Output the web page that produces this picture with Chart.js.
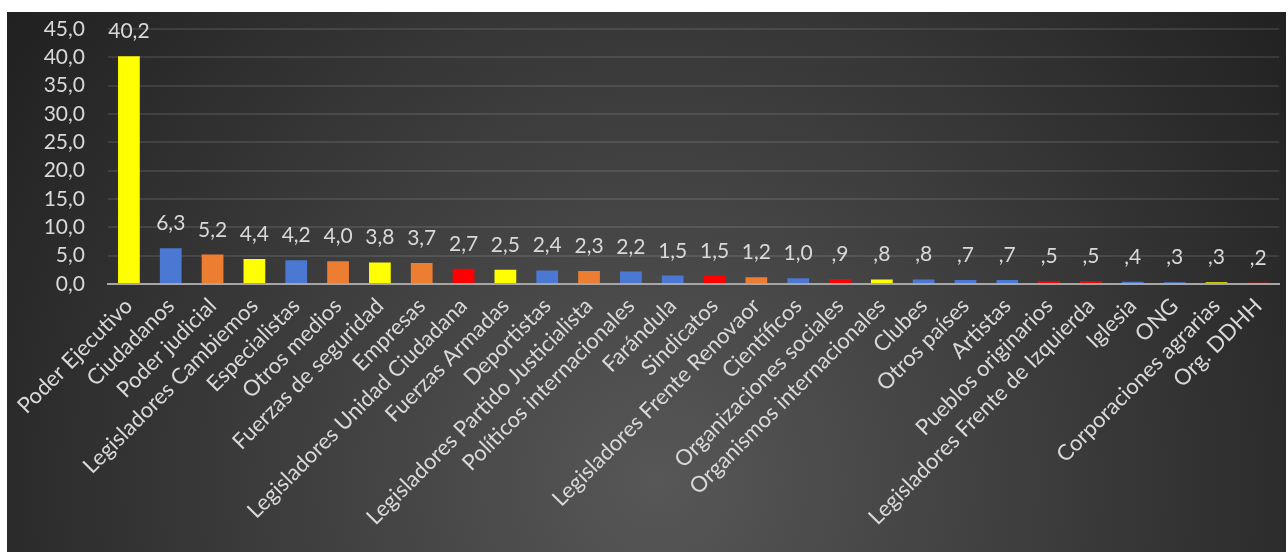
<!DOCTYPE html>
<html>
<head>
    <title>Actores</title>
    <script src="https://cdn.jsdelivr.net/npm/chart.js"></script>
    <style>
        body { margin: 0; background: #ffffff; }
        #wrap { position: absolute; left: 7px; top: 12px; width: 1279px; height: 540px; }
    </style>
</head>
<body>
    <div id="wrap"><canvas id="actorsChart"></canvas></div>

    <script>
        var categories = ['Poder Ejecutivo', 'Ciudadanos', 'Poder judicial', 'Legisladores Cambiemos', 'Especialistas',
            'Otros medios', 'Fuerzas de seguridad', 'Empresas', 'Legisladores Unidad Ciudadana', 'Fuerzas Armadas',
            'Deportistas', 'Legisladores Partido Justicialista', 'Políticos internacionales', 'Farándula', 'Sindicatos',
            'Legisladores Frente Renovaor', 'Científicos', 'Organizaciones sociales', 'Organismos internacionales',
            'Clubes', 'Otros países', 'Artistas', 'Pueblos originarios', 'Legisladores Frente de Izquierda',
            'Iglesia', 'ONG', 'Corporaciones agrarias', 'Org. DDHH'];
        var values = [40.2, 6.3, 5.2, 4.4, 4.2, 4.0, 3.8, 3.7, 2.7, 2.5, 2.4, 2.3, 2.2, 1.5, 1.5,
            1.2, 1.0, 0.9, 0.8, 0.8, 0.7, 0.7, 0.5, 0.5, 0.4, 0.3, 0.3, 0.2];
        // Y = amarillo, B = azul, O = naranja, R = rojo
        var groups = ['Y', 'B', 'O', 'Y', 'B', 'O', 'Y', 'O', 'R', 'Y', 'B', 'O', 'B', 'B', 'R',
            'O', 'B', 'R', 'Y', 'B', 'B', 'B', 'R', 'R', 'B', 'B', 'Y', 'R'];
        var yTicks = [0, 5, 10, 15, 20, 25, 30, 35, 40, 45];

        var palette = { Y: '#ffff00', B: '#4a78d2', O: '#ed7d31', R: '#ff0000' };
        var textColor = '#d9d9d9';
        var font = { family: 'Lato', size: 21 };
        var xFont = { family: 'Lato', size: 22 };

        function fmt(v) {
            var s = v.toFixed(1).replace('.', ',');
            if (s.indexOf('0,') === 0) s = s.substring(1);
            return s;
        }

        var bgPlugin = {
            id: 'bg',
            beforeDraw: function (chart) {
                var c = chart.ctx;
                var g = c.createRadialGradient(650, 470, 0, 650, 470, 820);
                g.addColorStop(0, '#575757');
                g.addColorStop(1, '#1f1f1f');
                c.save();
                c.fillStyle = g;
                c.fillRect(0, 0, chart.width, chart.height);
                c.restore();
            }
        };

        var valuePlugin = {
            id: 'values',
            afterDatasetsDraw: function (chart) {
                var c = chart.ctx;
                var meta = chart.getDatasetMeta(0);
                c.save();
                c.fillStyle = textColor;
                c.font = font.size + 'px ' + font.family;
                c.textAlign = 'center';
                c.textBaseline = 'alphabetic';
                meta.data.forEach(function (bar, i) {
                    c.fillText(fmt(values[i]), bar.x, bar.y - 18);
                });
                c.restore();
            }
        };

        var ctx = document.getElementById('actorsChart');
        new Chart(ctx, {
            type: 'bar',
            data: {
                labels: categories,
                datasets: [{
                    data: values,
                    backgroundColor: groups.map(function (g) { return palette[g]; }),
                    borderWidth: 0,
                    categoryPercentage: 1,
                    barPercentage: 0.52
                }]
            },
            options: {
                responsive: true,
                maintainAspectRatio: false,
                animation: false,
                layout: { padding: { top: 0, right: 2, left: 0, bottom: 0 } },
                plugins: {
                    legend: { display: false },
                    tooltip: { enabled: false }
                },
                scales: {
                    x: {
                        grid: { display: false, drawTicks: false },
                        border: { color: '#a6a6a6', width: 2 },
                        ticks: {
                            color: textColor,
                            font: xFont,
                            minRotation: 45,
                            maxRotation: 45,
                            autoSkip: false,
                            padding: 9
                        },
                        afterFit: function (scale) { scale.height = 268; }
                    },
                    y: {
                        min: 0,
                        max: 45,
                        afterBuildTicks: function (scale) {
                            scale.ticks = yTicks.map(function (v) { return { value: v }; });
                        },
                        grid: { color: 'rgba(255,255,255,0.1)', lineWidth: 2, drawTicks: false },
                        border: { display: false },
                        ticks: {
                            color: textColor,
                            font: font,
                            padding: 23,
                            autoSkip: false,
                            callback: function (v) { return v.toFixed(1).replace('.', ','); }
                        },
                        afterFit: function (scale) {
                            scale.width = 101;
                            scale.paddingTop = 17;
                            scale.paddingBottom = 12;
                        }
                    }
                }
            },
            plugins: [bgPlugin, valuePlugin]
        });
    </script>
</body>
</html>
